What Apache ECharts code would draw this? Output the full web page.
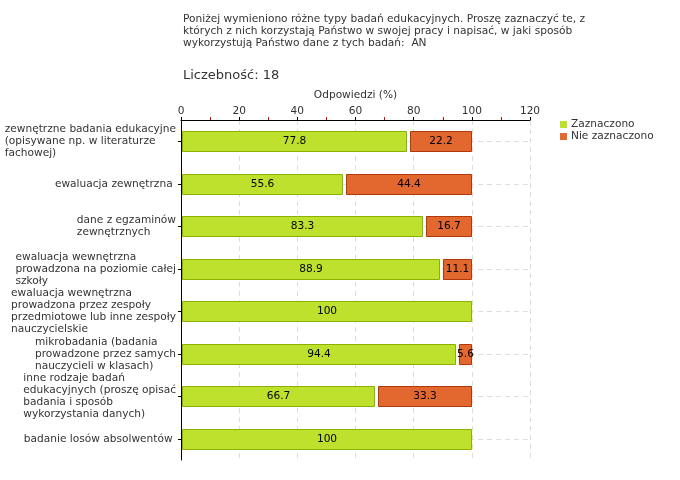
<!DOCTYPE html>
<html><head><meta charset="utf-8">
<script src="https://cdn.jsdelivr.net/npm/echarts@6/dist/echarts.min.js"></script>
<style>html,body{margin:0;padding:0;background:#fff}#c{width:680px;height:480px}</style>
</head><body><div id="c"></div>
<script>
const categories = [
  "zewnętrzne badania edukacyjne\n(opisywane np. w literaturze\nfachowej)",
  "ewaluacja zewnętrzna ",
  "dane z egzaminów\nzewnętrznych",
  "ewaluacja wewnętrzna\nprowadzona na poziomie całej\nszkoły",
  "ewaluacja wewnętrzna\nprowadzona przez zespoły\nprzedmiotowe lub inne zespoły\nnauczycielskie",
  "mikrobadania (badania\nprowadzone przez samych\nnauczycieli w klasach)",
  "inne rodzaje badań\nedukacyjnych (proszę opisać\nbadania i sposób\nwykorzystania danych)",
  "badanie losów absolwentów "
];
const zaznaczono = [77.8, 55.6, 83.3, 88.9, 100, 94.4, 66.7, 100];
const nieZaznaczono = [22.2, 44.4, 16.7, 11.1, 0, 5.6, 33.3, 0];
const xTicks = [0, 20, 40, 60, 80, 100, 120];
const seriesNames = ["Zaznaczono", "Nie zaznaczono"];
const titleText = "Poniżej wymieniono różne typy badań edukacyjnych. Proszę zaznaczyć te, z\nktórych z nich korzystają Państwo w swojej pracy i napisać, w jaki sposób\nwykorzystują Państwo dane z tych badań:  AN";
const countText = "Liczebność: 18";

const FONT = "DejaVu Sans";
const FS = 10.6;
const GREEN = "#bde12d", GREEN_B = "#8cb000";
const RED = "#e26830", RED_B = "#b0380a";

const greenData = zaznaczono.map((v, i) => [i, 0, v, v]);
const redData = nieZaznaczono.map((v, i) => [i, zaznaczono[i], zaznaczono[i] + v, v]);

function makeRender(fill, border, gap) {
  return function (params, api) {
    const cat = api.value(0);
    const s = api.value(1), e = api.value(2);
    const val = api.value(3);
    if (!(val > 0)) return null;
    const p0 = api.coord([s, cat]);
    const p1 = api.coord([e, cat]);
    const h = 20;
    const x0 = Math.round(p0[0]) + gap + 0.5;
    const x1 = Math.round(p1[0]) - 0.5;
    const y0 = Math.round(p0[1] - h / 2) + 0.5;
    return {
      type: 'group',
      children: [
        { type: 'rect', shape: { x: x0, y: y0, width: x1 - x0, height: h },
          style: { fill: fill, stroke: border, lineWidth: 1 } },
        { type: 'text', x: (x0 + x1) / 2, y: p0[1],
          style: { text: String(val), fill: '#000', font: FS + 'px "' + FONT + '"', align: 'center', verticalAlign: 'middle' } }
      ]
    };
  };
}

const chart = echarts.init(document.getElementById('c'), null, { renderer: 'canvas' });
chart.setOption({
  animation: false,
  textStyle: { fontFamily: FONT },
  title: [
    { text: titleText, left: 178, top: 8,
      textStyle: { fontFamily: FONT, fontSize: FS, fontWeight: 'normal', color: '#333', lineHeight: 12 } },
    { text: countText, left: 178, top: 64,
      textStyle: { fontFamily: FONT, fontSize: 13, fontWeight: 'normal', color: '#333' } }
  ],
  legend: {
    orient: 'vertical', left: 555, top: 114, itemWidth: 7, itemHeight: 7, itemGap: 1,
    icon: 'rect', data: seriesNames,
    textStyle: { fontFamily: FONT, fontSize: FS, color: '#333', padding: [0, 0, 0, -1] }
  },
  grid: { left: 181, right: 150, top: 120, bottom: 20, containLabel: false, outerBoundsMode: 'none' },
  xAxis: {
    type: 'value', position: 'top', min: 0, max: 120, interval: 20,
    name: 'Odpowiedzi (%)', nameLocation: 'middle', nameGap: 17,
    nameTextStyle: { fontFamily: FONT, fontSize: FS, color: '#333' },
    axisLine: { show: true, lineStyle: { color: '#000', width: 1 } },
    axisTick: { show: true, length: 3, lineStyle: { color: '#000' } },
    minorTick: { show: true, splitNumber: 2, length: 3, lineStyle: { color: '#e00000' } },
    axisLabel: { fontFamily: FONT, fontSize: FS, color: '#333', margin: 3,
      formatter: v => xTicks.indexOf(v) >= 0 ? String(v) : '' },
    splitLine: { show: true, lineStyle: { color: '#dddddd', type: [5, 4] } }
  },
  yAxis: {
    type: 'category', inverse: true, data: categories,
    axisLine: { show: true, lineStyle: { color: '#000', width: 1 } },
    axisTick: { show: true, alignWithLabel: true, length: 3, lineStyle: { color: '#000' } },
    axisLabel: {
      fontFamily: FONT, fontSize: FS, color: '#333', margin: 5, lineHeight: 12,
      formatter: v => v.split('\n').map(l => '{l|' + l + '}').join('\n'),
      rich: { l: { align: 'left', fontFamily: FONT, fontSize: FS, color: '#333', lineHeight: 12 } }
    },
    splitLine: { show: true, alignWithLabel: true, lineStyle: { color: '#dddddd', type: [5, 4] } }
  },
  series: [
    { name: seriesNames[0], type: 'custom', renderItem: makeRender(GREEN, GREEN_B, 1),
      itemStyle: { color: GREEN }, encode: { x: [1, 2], y: 0 }, data: greenData, z: 3 },
    { name: seriesNames[1], type: 'custom', renderItem: makeRender(RED, RED_B, 3),
      itemStyle: { color: RED }, encode: { x: [1, 2], y: 0 }, data: redData, z: 3 }
  ]
});
</script></body></html>
